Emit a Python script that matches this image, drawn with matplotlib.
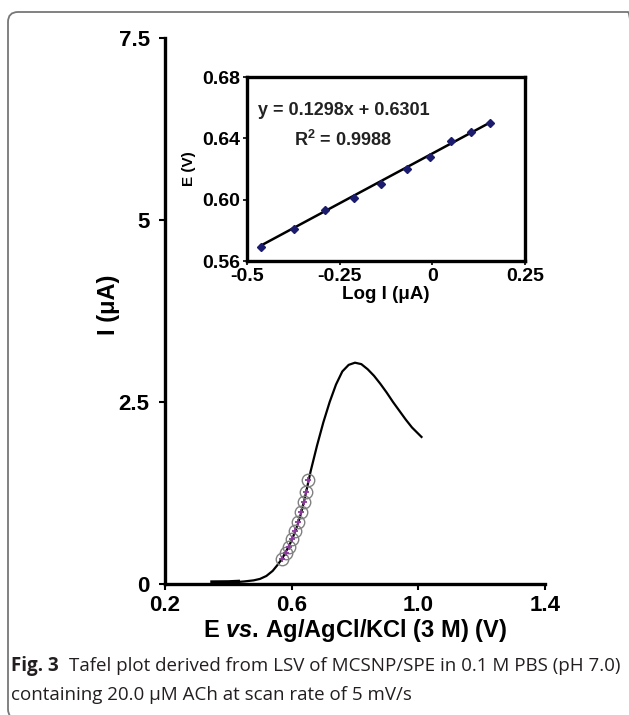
import matplotlib
matplotlib.use('Agg')
import matplotlib.pyplot as plt
from matplotlib.patches import FancyBboxPatch
import numpy as np

matplotlib.rcParams['font.family'] = ['Liberation Sans', 'DejaVu Sans']
matplotlib.rcParams['font.weight'] = 'bold'
matplotlib.rcParams['mathtext.fontset'] = 'custom'
matplotlib.rcParams['mathtext.rm'] = 'Liberation Sans:bold'
matplotlib.rcParams['mathtext.bf'] = 'Liberation Sans:bold'
matplotlib.rcParams['mathtext.it'] = 'Liberation Sans:italic:bold'

# LSV curve (main plot)
lsv_e = [0.35, 0.40, 0.43, 0.45, 0.48, 0.50, 0.52, 0.54, 0.555, 0.57, 0.58,
         0.59, 0.60, 0.61, 0.62, 0.63, 0.64, 0.65, 0.66, 0.68, 0.70, 0.72,
         0.74, 0.76, 0.78, 0.80, 0.82, 0.84, 0.86, 0.88, 0.90, 0.92, 0.94,
         0.96, 0.98, 1.01]
lsv_i = [0.02, 0.022, 0.028, 0.035, 0.05, 0.07, 0.11, 0.18, 0.26, 0.35, 0.43,
         0.51, 0.60, 0.71, 0.83, 0.98, 1.15, 1.35, 1.55, 1.90, 2.22, 2.50,
         2.74, 2.92, 3.01, 3.04, 3.02, 2.95, 2.86, 2.75, 2.63, 2.50, 2.38,
         2.26, 2.15, 2.02]

# Tafel points (inset)
log_i = [-0.462, -0.373, -0.290, -0.212, -0.138, -0.068, -0.006, 0.050, 0.104, 0.155]
tafel_e = [0.569, 0.581, 0.593, 0.601, 0.610, 0.620, 0.628, 0.638, 0.644, 0.650]
slope = 0.1298
intercept = 0.6301

main_xticks = [0.2, 0.6, 1.0, 1.4]
main_xticklabels = ['0.2', '0.6', '1.0', '1.4']
main_yticks = [0, 2.5, 5, 7.5]
main_yticklabels = ['0', '2.5', '5', '7.5']
ins_xticks = [-0.5, -0.25, 0, 0.25]
ins_xticklabels = ['-0.5', '-0.25', '0', '0.25']
ins_yticks = [0.56, 0.60, 0.64, 0.68]
ins_yticklabels = ['0.56', '0.60', '0.64', '0.68']

W, H = 629, 715
fig = plt.figure(figsize=(W / 100, H / 100), dpi=100)

# rounded frame around the figure (right and bottom run off the page)
frame = FancyBboxPatch((8, -4), 630, 707, boxstyle='round,pad=0,rounding_size=10',
                       transform=None, facecolor='none', edgecolor='#777777', lw=1.3)
fig.patches.append(frame)


def px_axes(l, t, r, b):
    return fig.add_axes([l / W, 1 - b / H, (r - l) / W, (b - t) / H])


ax = px_axes(165, 38, 545, 584)
ax.plot(lsv_e, lsv_i, color='black', lw=1.6)
ax.plot(lsv_e[:3], lsv_i[:3], color='black', lw=3.2)
circ_i = [10 ** v for v in log_i]
ax.plot(tafel_e, circ_i, 'o', ms=9, mfc='none', mec='#808080', mew=1.0)
ax.plot(tafel_e, circ_i, '+', ms=5, color='#8a3c9a', mew=1.3)
ax.set_xlim(0.2, 1.4)
ax.set_ylim(0, 7.5)
ax.set_xticks(main_xticks)
ax.set_xticklabels(main_xticklabels)
ax.set_yticks(main_yticks)
ax.set_yticklabels(main_yticklabels)
for s in ['top', 'right']:
    ax.spines[s].set_visible(False)
for s in ['left', 'bottom']:
    ax.spines[s].set_linewidth(2.4)
ax.tick_params(direction='out', length=4, width=1.5, labelsize=16)
ax.tick_params(axis='y', pad=7)
ax.tick_params(axis='x', pad=4)
ax.set_xlabel(r'E $\mathit{vs.}\,$Ag/AgCl/KCl (3 M) (V)', fontsize=17, fontweight='bold', labelpad=1)
ax.set_ylabel('I (\u03bcA)', fontsize=17, fontweight='bold')
ax.yaxis.set_label_coords(-0.118, 0.511)

# inset: Tafel plot
ins = px_axes(247, 77, 525, 261)
xx = np.array([log_i[0], log_i[-1]])
ins.plot(xx, slope * xx + intercept, color='black', lw=1.8)
ins.plot(log_i, tafel_e, 'D', ms=4.5, color='#1c1c6e')
ins.set_xlim(-0.5, 0.25)
ins.set_ylim(0.56, 0.68)
ins.set_xticks(ins_xticks)
ins.set_xticklabels(ins_xticklabels)
ins.set_yticks(ins_yticks)
ins.set_yticklabels(ins_yticklabels)
for s in ins.spines.values():
    s.set_linewidth(2.4)
ins.tick_params(direction='out', length=3, width=1.2, labelsize=14, pad=2)
ins.set_xlabel('Log I (\u03bcA)', fontsize=13.5, fontweight='bold', labelpad=1)
ins.set_ylabel('E (V)', fontsize=11, fontweight='bold', labelpad=4)
ins.text(0.04, 0.82, 'y = 0.1298x + 0.6301', transform=ins.transAxes,
         fontsize=13, fontweight='bold', va='center', color='#222222')
ins.text(0.17, 0.66, 'R$^{\\mathbf{2}}$ = 0.9988', transform=ins.transAxes,
         fontsize=13, fontweight='bold', va='center', color='#222222')

# caption
cap_font = ['Open Sans', 'DejaVu Sans']
fig.text(11 / W, 1 - 666 / H, 'Fig. 3', fontsize=13.5, fontweight='bold',
         family=cap_font, va='center', color='#231f20')
fig.text(69 / W, 1 - 666 / H, 'Tafel plot derived from LSV of MCSNP/SPE in 0.1 M PBS (pH 7.0)',
         fontsize=13.5, fontweight='normal', family=cap_font, va='center', color='#231f20')
fig.text(11 / W, 1 - 695 / H, 'containing 20.0 \u03bcM ACh at scan rate of 5 mV/s',
         fontsize=13.5, fontweight='normal', family=cap_font, va='center', color='#231f20')

fig.savefig('out.png', dpi=100)
